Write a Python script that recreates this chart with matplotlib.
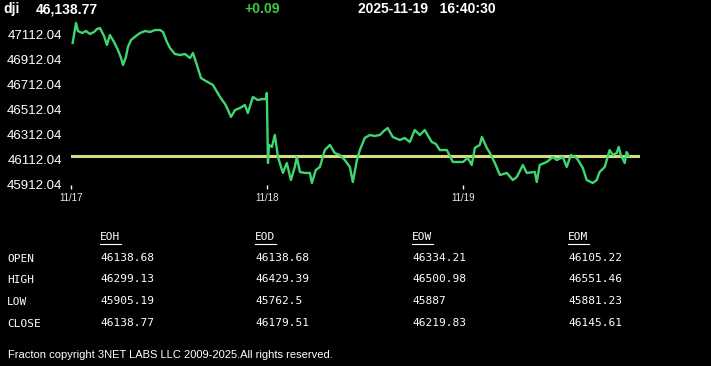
import matplotlib
matplotlib.use('Agg')
import matplotlib.pyplot as plt
from matplotlib.lines import Line2D

# price trace, t in days from 11/17 open
t = [0.007, 0.024, 0.034, 0.055, 0.075, 0.095, 0.116, 0.131, 0.146, 0.167,
     0.182, 0.197, 0.218, 0.238, 0.254, 0.264, 0.279, 0.289, 0.305, 0.330,
     0.351, 0.376, 0.402, 0.427, 0.453, 0.468, 0.488, 0.504, 0.529, 0.555,
     0.580, 0.606, 0.621, 0.641, 0.662, 0.687, 0.723, 0.744, 0.759, 0.785,
     0.800, 0.815, 0.836, 0.861, 0.886, 0.901, 0.927, 0.952, 0.973, 0.993,
     0.998, 1.004, 1.009, 1.024, 1.039, 1.055, 1.080, 1.100, 1.121, 1.141,
     1.151, 1.167, 1.192, 1.218, 1.228, 1.248, 1.269, 1.294, 1.320, 1.345,
     1.371, 1.396, 1.422, 1.437, 1.458, 1.473, 1.498, 1.524, 1.549, 1.575,
     1.595, 1.615, 1.641, 1.677, 1.702, 1.728, 1.753, 1.779, 1.804, 1.840,
     1.861, 1.881, 1.917, 1.948, 1.999, 2.024, 2.044, 2.060, 2.085, 2.096,
     2.121, 2.137, 2.162, 2.188, 2.223, 2.254, 2.274, 2.305, 2.325, 2.366,
     2.376, 2.391, 2.427, 2.458, 2.478, 2.509, 2.529, 2.550, 2.580, 2.611,
     2.631, 2.662, 2.682, 2.697, 2.723, 2.748, 2.764, 2.784, 2.794, 2.805,
     2.825, 2.835, 2.845]
price = [47048, 47208, 47144, 47128, 47144, 47120, 47136, 47160, 47168, 47104,
         47032, 47112, 47056, 46991, 46927, 46871, 46935, 47016, 47072, 47104,
         47128, 47144, 47136, 47152, 47152, 47136, 47056, 47007, 46959, 46951,
         46959, 46927, 46967, 46871, 46766, 46742, 46710, 46654, 46614, 46557,
         46509, 46453, 46509, 46525, 46549, 46485, 46614, 46589, 46597, 46597,
         46646, 46083, 46228, 46212, 46308, 46131, 46003, 46083, 45946, 46051,
         46131, 46011, 46003, 46003, 45922, 46027, 46051, 46187, 46228, 46163,
         46147, 46107, 46051, 45930, 46107, 46187, 46284, 46308, 46300, 46308,
         46340, 46364, 46292, 46268, 46284, 46252, 46348, 46308, 46348, 46252,
         46236, 46187, 46187, 46091, 46091, 46123, 46067, 46204, 46228, 46292,
         46204, 46163, 46083, 45986, 46003, 45946, 45970, 46067, 46003, 46011,
         45930, 46067, 46091, 46131, 46107, 46131, 46051, 46147, 46123, 46043,
         45946, 45922, 45946, 46011, 46051, 46187, 46147, 46163, 46212, 46147,
         46083, 46171, 46139]

ref_level = 46138.68
ref_end = 2.90

yticks = [45912.04, 46112.04, 46312.04, 46512.04, 46712.04, 46912.04, 47112.04]
day_pos = [0, 1, 2]
day_labels = ['11/17', '11/18', '11/19']

col_names = ['EOH', 'EOD', 'EOW', 'EOM']
row_names = ['OPEN', 'HIGH', 'LOW', 'CLOSE']
table = [['46138.68', '46138.68', '46334.21', '46105.22'],
         ['46299.13', '46429.39', '46500.98', '46551.46'],
         ['45905.19', '45762.5', '45887', '45881.23'],
         ['46138.77', '46179.51', '46219.83', '46145.61']]

W, H = 711, 366
fig = plt.figure(figsize=(W / 100, H / 100), dpi=100, facecolor='black')

ax = fig.add_axes([71.3 / W, (H - 185) / H, (640 - 71.3) / W, 165 / H])
ax.set_facecolor('black')
for s in ax.spines.values():
    s.set_visible(False)

ax.plot([0, ref_end], [ref_level, ref_level], color='#d2de7c', lw=2.2, zorder=2)
ax.plot(t, price, color='#3fd672', lw=1.7, zorder=3)

ax.set_xlim(0, 2.903)
ax.set_ylim(45906, 47232.6)
ax.set_yticks(yticks)
ax.set_yticklabels(['%.2f' % v for v in yticks])
ax.set_xticks(day_pos)
ax.set_xticklabels(day_labels)
ax.tick_params(axis='y', length=0, pad=6.5, labelsize=9.5, labelcolor='white')
ax.tick_params(axis='x', length=3, width=1, color='white', pad=2.5,
               labelsize=7, labelcolor='#e8e8e8')
for lab in ax.get_yticklabels() + ax.get_xticklabels():
    lab.set_fontfamily('Liberation Sans')

# header
hdr = dict(color='white', fontsize=10, fontweight='bold', family='Liberation Sans',
           va='center')
fig.text(3 / W, 1 - 9 / H, 'dji', **hdr)
fig.text(36 / W, 1 - 9 / H, '46,138.77', **hdr)
fig.text(244 / W, 1 - 9 / H, '+0.09', **dict(hdr, color='#3ccc3c'))
fig.text(358 / W, 1 - 9 / H, '2025-11-19   16:40:30', **hdr)

# summary table
mono = dict(color='white', fontsize=8, family='DejaVu Sans Mono', va='center')
col_x = [100, 255, 412, 568]
for cx, name in zip(col_x, col_names):
    fig.text(cx / W, 1 - 237 / H, name, **mono)
    fig.add_artist(Line2D([cx / W, (cx + 21) / W], [1 - 244 / H, 1 - 244 / H],
                          color='white', lw=0.8, transform=fig.transFigure))
row_y = [259, 280, 302, 324]
for ry, rname, vals in zip(row_y, row_names, table):
    fig.text(7 / W, 1 - ry / H, rname, **mono)
    for cx, v in zip(col_x, vals):
        fig.text(cx / W, 1 - (ry - 1) / H, v, **mono)

fig.text(8 / W, 1 - 355 / H, 'Fracton copyright 3NET LABS LLC 2009-2025.All rights reserved.',
         color='white', fontsize=8, family='Liberation Sans', va='center')

fig.savefig('out.png', dpi=100, facecolor='black')
